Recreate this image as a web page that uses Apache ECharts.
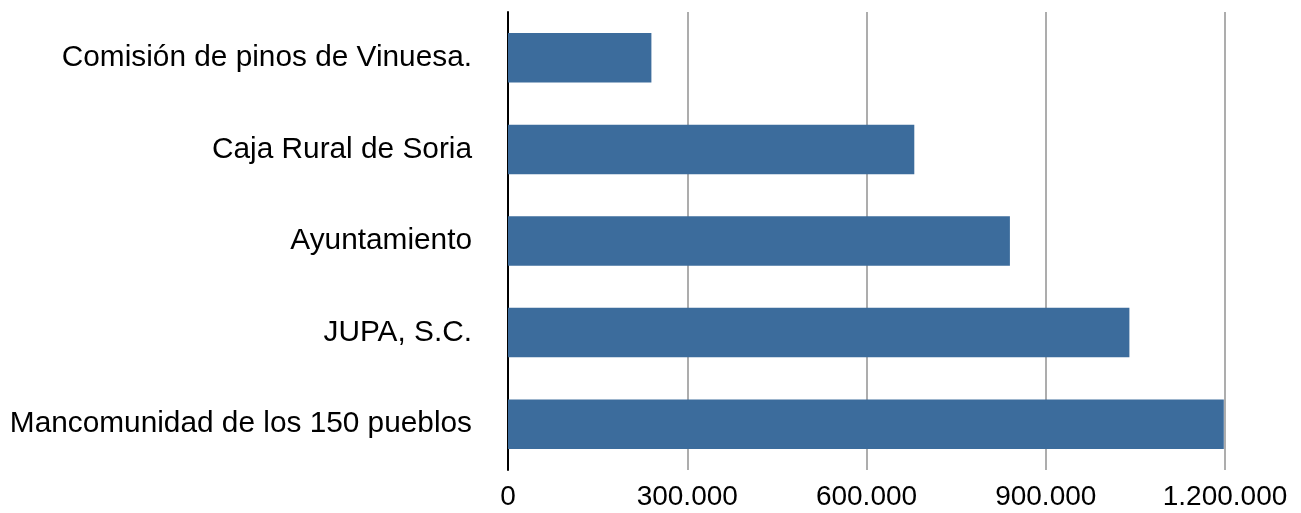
<!DOCTYPE html>
<html>
<head>
<meta charset="utf-8">
<script src="https://cdn.jsdelivr.net/npm/echarts@6/dist/echarts.min.js"></script>
<style>html,body{margin:0;padding:0;background:#fff}#c{width:1301px;height:513px}</style>
</head>
<body>
<div id="c"></div>
<script>
const categories = ["Comisión de pinos de Vinuesa.", "Caja Rural de Soria", "Ayuntamiento", "JUPA, S.C.", "Mancomunidad de los 150 pueblos"];
const values = [240000, 680000, 840000, 1040000, 1198000];
const axisMax = 1200000;
const axisInterval = 300000;

function fmt(v){ return String(Math.round(v)).replace(/\B(?=(\d{3})+(?!\d))/g, '.'); }

const chart = echarts.init(document.getElementById('c'), null, {renderer:'canvas'});
chart.setOption({
  animation: false,
  grid: {left: 508, right: 76, top: 12, bottom: 43, containLabel: false},
  xAxis: {
    type: 'value', min: 0, max: axisMax, interval: axisInterval,
    axisLine: {show: false},
    axisTick: {show: false},
    splitLine: {show: true, lineStyle: {color: '#adadad', width: 2}},
    axisLabel: {formatter: fmt, color: '#000', fontSize: 28, fontFamily: 'Liberation Sans, Arial, sans-serif', margin: 13}
  },
  yAxis: {
    type: 'category', data: categories, inverse: true,
    axisLine: {show: true, lineStyle: {color: '#000', width: 2}},
    axisTick: {show: false},
    axisLabel: {color: '#000', fontSize: 29.8, fontFamily: 'Liberation Sans, Arial, sans-serif', margin: 36}
  },
  series: [{
    type: 'bar', data: values, barCategoryGap: '46%',
    itemStyle: {color: '#3c6c9c'}
  }]
});
</script>
</body>
</html>
